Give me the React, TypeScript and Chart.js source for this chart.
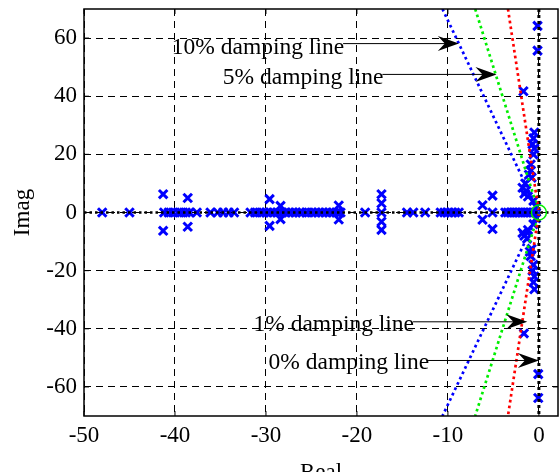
import React, { useEffect, useRef } from "react";
import { Chart, registerables } from "chart.js";

Chart.register(...registerables);

// Axis ticks
const xTicks = [-50, -40, -30, -20, -10, 0];
const yTicks = [-60, -40, -20, 0, 20, 40, 60];
const xRange = [-50, 2.1];
const yRange = [-70, 70];

// Eigenvalues on the real axis (imaginary part = 0)
const realModes = [
  -48.0, -45.0,
  -41.2, -40.7, -40.2, -39.7, -39.3, -38.8, -38.4, -37.6,
  -36.1, -35.3, -34.7, -34.1, -33.5,
  -31.7, -31.2, -30.7, -30.3, -29.9, -29.5, -29.1, -28.7, -28.3, -27.9, -27.5, -27.1, -26.7, -26.3, -26.0,
  -25.5, -25.0, -24.6, -24.2, -23.8, -23.4, -23.0, -22.6, -22.2, -21.8,
  -19.1, -17.3, -14.5, -13.8, -12.5,
  -10.8, -10.4, -10.0, -9.6, -9.2, -8.8,
  -5.1,
  -3.7, -3.4, -3.1, -2.8, -2.5, -2.2, -1.9, -1.6, -1.3, -1.0, -0.7, -0.4,
];

// Complex eigenvalues: real parts and imaginary parts
const complexReal = [
  -41.3, -41.3, -38.6, -38.6, -29.6, -29.6, -28.4, -28.4, -22.0, -22.0,
  -17.3, -17.3, -17.3, -17.3,
  -6.2, -6.2, -5.1, -5.1,
  -0.15, -0.15, -1.7, -0.5, -0.6, -0.7, -0.5, -0.6, -0.9, -0.9, -1.1, -0.8, -1.5, -1.8, -1.4, -1.6, -1.2, -0.6, -0.3,
  -0.07, -0.07, -1.65, -0.5, -0.6, -0.5, -0.7, -0.6, -0.9, -1.0, -0.8, -1.3, -1.6, -1.8, -1.2, -0.6, -0.3,
];
const complexImag = [
  6.3, -6.3, 5.0, -4.9, 4.6, -4.6, 2.3, -2.3, 2.4, -2.4,
  6.3, 3.2, -3.2, -6.0,
  2.5, -2.5, 5.8, -5.7,
  64.2, 55.7, 41.7, 27.5, 25.5, 23.5, 22.0, 20.0, 16.5, 14.5, 13.0, 12.0, 10.0, 8.5, 7.5, 6.5, 5.5, 4.0, 2.0,
  -55.6, -63.8, -41.6, -26.4, -24.0, -22.0, -20.0, -18.0, -15.0, -13.5, -12.5, -9.0, -8.0, -7.0, -6.0, -4.0, -2.0,
];

// Damping lines: real part reached at |imag| = 70
const dampingNames = ["10%", "5%", "1%", "0%"];
const dampingRealAtEdge = [-10.6, -7.0, -3.4, 0];
const dampingColors = ["#0000ff", "#00ee00", "#ff0000", "#000000"];
const dampingImagEdge = 70;

// Annotations: text start (real, imag baseline) and arrow tip (real, imag)
const annText = ["10% damping line", "5% damping line", "1% damping line", "0% damping line"];
const annTextReal = [-40.35, -34.74, -31.37, -29.72];
const annTextImag = [54.6, 44.3, -40.6, -54.0];
const annTipReal = [-8.8, -4.66, -1.28, 0];
const annTipImag = [58.1, 47.5, -37.6, -50.9];

const FONT = "'Liberation Serif', 'Times New Roman', serif";

const framePlugin = {
  id: "framePlugin",
  afterDatasetsDraw(chart: any) {
    const { ctx, chartArea: a, scales } = chart;
    const xs = scales.x;
    const ys = scales.y;
    ctx.save();
    ctx.setLineDash([]);
    ctx.strokeStyle = "#000";
    ctx.lineWidth = 1;
    const seg = (x1: number, y1: number, x2: number, y2: number) => {
      ctx.beginPath();
      ctx.moveTo(x1, y1);
      ctx.lineTo(x2, y2);
      ctx.stroke();
    };
    for (const v of yTicks) {
      const py = ys.getPixelForValue(v);
      seg(a.left, py, a.left + 5, py);
      seg(a.right, py, a.right - 5, py);
    }
    for (const v of xTicks) {
      const px = xs.getPixelForValue(v);
      seg(px, a.top, px, a.top + 5);
      seg(px, a.bottom, px, a.bottom - 5);
    }
    ctx.lineWidth = 1.5;
    ctx.strokeRect(a.left, a.top, a.right - a.left, a.bottom - a.top);

    ctx.font = `23.5px ${FONT}`;
    ctx.fillStyle = "#000";
    ctx.textBaseline = "alphabetic";
    ctx.textAlign = "left";
    for (let i = 0; i < annText.length; i++) {
      const tx = xs.getPixelForValue(annTextReal[i]);
      const ty = ys.getPixelForValue(annTextImag[i]);
      ctx.fillText(annText[i], tx, ty);
      const w = ctx.measureText(annText[i]).width;
      const hx = xs.getPixelForValue(annTipReal[i]);
      const hy = ys.getPixelForValue(annTipImag[i]);
      ctx.lineWidth = 1;
      seg(tx + w - 1, hy, hx - 12, hy);
      ctx.beginPath();
      ctx.moveTo(hx, hy);
      ctx.lineTo(hx - 21, hy - 7.5);
      ctx.lineTo(hx - 14, hy);
      ctx.lineTo(hx - 21, hy + 7.5);
      ctx.closePath();
      ctx.fill();
    }

    ctx.font = `23px ${FONT}`;
    ctx.textAlign = "center";
    ctx.fillText("Real", (a.left + a.right) / 2, 478.5);
    ctx.translate(28.5, (a.top + a.bottom) / 2);
    ctx.rotate(-Math.PI / 2);
    ctx.fillText("Imag", 0, 0);
    ctx.restore();
  },
};

const zeroPad = (s: any) => {
  s.paddingTop = 0;
  s.paddingBottom = 0;
  s.paddingLeft = 0;
  s.paddingRight = 0;
};

export default function App() {
  const ref = useRef<HTMLCanvasElement | null>(null);

  useEffect(() => {
    document.body.style.margin = "0";
    const canvas = ref.current;
    if (!canvas) return;

    const modePoints = [
      ...realModes.map((r) => ({ x: r, y: 0 })),
      ...complexReal.map((r, i) => ({ x: r, y: complexImag[i] })),
    ];

    const dampingSets = dampingNames.map((name, i) => ({
      label: name + " damping line",
      data: [
        { x: dampingRealAtEdge[i], y: dampingImagEdge },
        { x: 0, y: 0 },
        { x: dampingRealAtEdge[i], y: -dampingImagEdge },
      ],
      showLine: true,
      borderColor: dampingColors[i],
      borderWidth: i === 3 ? 3 : 2.7,
      borderDash: i === 3 ? [3, 3] : [2.7, 3.2],
      pointRadius: 0,
      fill: false,
      order: 2 + i,
    }));

    const chart = new Chart(canvas, {
      type: "scatter",
      data: {
        datasets: [
          {
            label: "origin",
            data: [{ x: 0, y: 0 }],
            pointStyle: "circle",
            pointRadius: 7.5,
            borderColor: "#00ee00",
            backgroundColor: "rgba(0,0,0,0)",
            borderWidth: 1.5,
            order: 0,
          },
          {
            label: "real axis",
            data: [
              { x: xRange[0], y: 0 },
              { x: xRange[1], y: 0 },
            ],
            showLine: true,
            borderColor: "#000",
            borderWidth: 2.5,
            borderDash: [2.5, 3],
            pointRadius: 0,
            order: 1,
          },
          ...dampingSets,
          {
            label: "eigenvalues",
            data: modePoints,
            pointStyle: "crossRot",
            pointRadius: 6,
            borderColor: "#0000ff",
            backgroundColor: "#0000ff",
            borderWidth: 3,
            order: 10,
          },
        ],
      },
      options: {
        animation: false,
        responsive: false,
        devicePixelRatio: 1,
        layout: { padding: { top: 9, right: 1, left: 0, bottom: 0 } },
        plugins: {
          legend: { display: false },
          tooltip: { enabled: false },
        },
        scales: {
          x: {
            type: "linear",
            min: xRange[0],
            max: xRange[1],
            afterBuildTicks: (s: any) => {
              s.ticks = xTicks.map((v) => ({ value: v }));
            },
            afterFit: (s: any) => {
              s.height = 56;
              zeroPad(s);
            },
            grid: { color: "#000", lineWidth: 1, drawTicks: false },
            border: { display: false, dash: [7, 5] },
            ticks: {
              color: "#000",
              padding: 6,
              font: { family: FONT, size: 23 },
              maxRotation: 0,
            },
          },
          y: {
            type: "linear",
            min: yRange[0],
            max: yRange[1],
            afterBuildTicks: (s: any) => {
              s.ticks = yTicks.map((v) => ({ value: v }));
            },
            afterFit: (s: any) => {
              s.width = 84;
              zeroPad(s);
            },
            grid: { color: "#000", lineWidth: 1, drawTicks: false },
            border: { display: false, dash: [7, 5] },
            ticks: {
              color: "#000",
              padding: 7,
              font: { family: FONT, size: 23 },
            },
          },
        },
      },
      plugins: [framePlugin],
    });

    return () => chart.destroy();
  }, []);

  return (
    <div style={{ width: 559, height: 472, overflow: "hidden" }}>
      <canvas ref={ref} width={567} height={472} style={{ display: "block" }} />
    </div>
  );
}
